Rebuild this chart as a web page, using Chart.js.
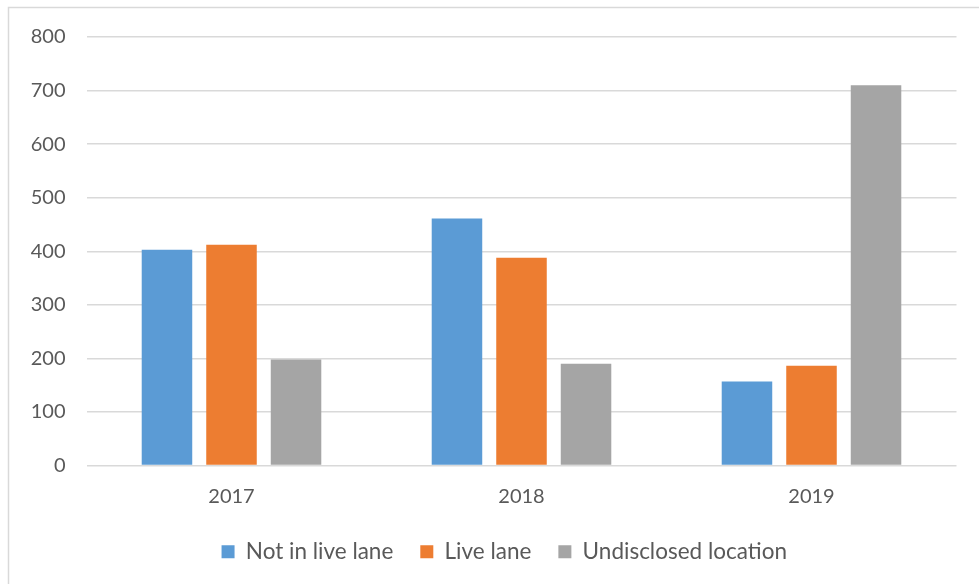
<!DOCTYPE html>
<html>
<head>
<meta charset="utf-8">
<script src="https://cdn.jsdelivr.net/npm/chart.js@4.4.0/dist/chart.umd.min.js"></script>
<style>
  html, body { margin: 0; padding: 0; background: #fff; }
  #wrap { position: relative; width: 979px; height: 584px; }
</style>
</head>
<body>
<div id="wrap"><canvas id="laneChart" width="979" height="584"></canvas></div>
<script>
// categories and series
var years = ["2017", "2018", "2019"];
var notInLiveLane = [403, 461, 157];
var liveLane = [412, 388, 186];
var undisclosedLocation = [198, 190, 710];
var yTicks = [0, 100, 200, 300, 400, 500, 600, 700, 800];

var textColor = "#595959";
var fontFamily = "Lato, 'Open Sans', sans-serif";

// thin grey frame around the chart
var framePlugin = {
  id: "frame",
  beforeDraw: function (chart) {
    var ctx = chart.ctx;
    ctx.save();
    ctx.strokeStyle = "#d9d9d9";
    ctx.lineWidth = 1.5;
    ctx.strokeRect(8.5, 7.5, 2000, 2000);
    ctx.restore();
  },
};

// legend sits a bit right of the canvas centre
var legendShift = {
  id: "legendShift",
  afterLayout: function (chart) {
    var lg = chart.legend;
    var dx = 26;
    var dy = -6;
    lg.left += dx;
    lg.right += dx;
    lg.top += dy;
    lg.bottom += dy;
  },
};

var ctx = document.getElementById("laneChart").getContext("2d");
var laneChart = new Chart(ctx, {
  type: "bar",
  data: {
    labels: years,
    datasets: [
      {
        label: "Not in live lane",
        data: notInLiveLane,
        backgroundColor: "#5b9bd5",
      },
      {
        label: "Live lane",
        data: liveLane,
        backgroundColor: "#ed7d31",
      },
      {
        label: "Undisclosed location",
        data: undisclosedLocation,
        backgroundColor: "#a5a5a5",
      },
    ],
  },
  options: {
    responsive: false,
    animation: false,
    devicePixelRatio: 1,
    categoryPercentage: 0.6675,
    barPercentage: 0.783,
    layout: {
      padding: { top: 37, right: 22.5, bottom: 5, left: 0 },
    },
    plugins: {
      tooltip: { enabled: false },
      legend: {
        display: true,
        position: "bottom",
        labels: {
          color: textColor,
          boxWidth: 13,
          boxHeight: 13,
          padding: 27,
          font: { family: fontFamily, size: 22.5 },
        },
      },
    },
    scales: {
      x: {
        grid: { display: false },
        border: { display: false },
        ticks: {
          color: textColor,
          padding: 11,
          font: { family: fontFamily, size: 20 },
        },
      },
      y: {
        min: 0,
        max: 800,
        afterBuildTicks: function (scale) {
          scale.ticks = yTicks.map(function (v) {
            return { value: v };
          });
        },
        afterFit: function (scale) {
          scale.width = 86.5;
        },
        grid: {
          color: "#d9d9d9",
          lineWidth: 1.5,
          drawTicks: false,
        },
        border: { display: false },
        ticks: {
          color: textColor,
          padding: 21,
          font: { family: fontFamily, size: 20 },
        },
      },
    },
  },
  plugins: [framePlugin, legendShift],
});
</script>
</body>
</html>
